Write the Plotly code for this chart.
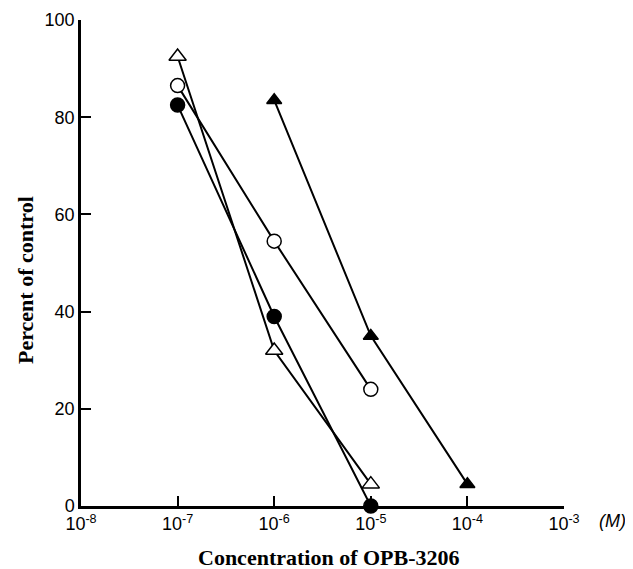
import plotly.graph_objects as go

conc = [1e-7, 1e-6, 1e-5]
open_tri = [92.5, 32, 4.5]
open_circ = [86.5, 54.5, 24]
filled_circ = [82.5, 39, 0]
conc_tri = [1e-6, 1e-5, 1e-4]
filled_tri = [83.5, 35, 4.5]

xtick_vals = [1e-8, 1e-7, 1e-6, 1e-5, 1e-4, 1e-3]
xtick_text = ["10<sup>-8</sup>", "10<sup>-7</sup>", "10<sup>-6</sup>",
              "10<sup>-5</sup>", "10<sup>-4</sup>", "10<sup>-3</sup>"]
ytick_vals = [0, 20, 40, 60, 80, 100]

fig = go.Figure()

def add(x, y, symbol, fill, size):
    fig.add_trace(go.Scatter(
        x=x, y=y, mode="lines+markers", cliponaxis=False,
        line=dict(color="black", width=2),
        marker=dict(symbol=symbol, size=size, color=fill,
                    line=dict(color="black", width=1.5)),
        showlegend=False))

add(conc, open_tri, "triangle-up", "white", 15)
add(conc, open_circ, "circle", "white", 14)
add(conc, filled_circ, "circle", "black", 14)
add(conc_tri, filled_tri, "triangle-up", "black", 13)

fig.update_layout(
    width=625, height=561,
    margin=dict(l=73, r=69, t=12, b=63),
    paper_bgcolor="white", plot_bgcolor="white",
    font=dict(family="Liberation Sans", color="black", size=18),
    xaxis=dict(type="log", range=[-8, -3], tickvals=xtick_vals, ticktext=xtick_text,
               showline=True, linewidth=2.5, linecolor="black", mirror=False,
               ticks="inside", ticklen=10, tickwidth=1.5, tickcolor="black",
               showgrid=False, zeroline=False, tickfont=dict(size=18), automargin=False),
    yaxis=dict(range=[0, 100], tickvals=ytick_vals,
               showline=True, linewidth=2.5, linecolor="black",
               ticks="inside", ticklen=10, tickwidth=1.5, tickcolor="black",
               showgrid=False, zeroline=False, tickfont=dict(size=18), automargin=False),
    annotations=[
        dict(text="<b>Percent of control</b>", xref="paper", yref="paper",
             x=-0.116, y=0.465, xanchor="center", yanchor="middle",
             textangle=-90, showarrow=False,
             font=dict(family="Liberation Serif", size=22)),
        dict(text="<b>Concentration of OPB-3206</b>", xref="paper", yref="paper",
             x=0.513, y=-0.105, xanchor="center", yanchor="middle", showarrow=False,
             font=dict(family="Liberation Serif", size=22)),
        dict(text="<i>(M)</i>", xref="paper", yref="paper",
             x=1.101, y=-0.031, xanchor="center", yanchor="middle", showarrow=False,
             font=dict(family="Liberation Sans", size=18)),
    ],
)

fig.write_html("out.html")
